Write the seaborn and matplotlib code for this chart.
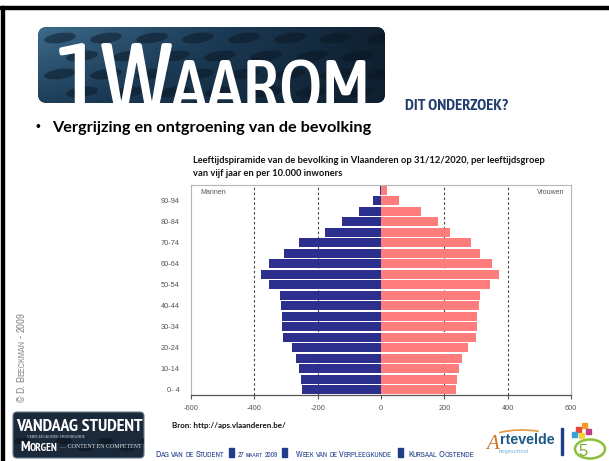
import os
import matplotlib
matplotlib.use("Agg")
import matplotlib.pyplot as plt
from matplotlib import font_manager as fm
import seaborn as sns
import pandas as pd
import numpy as np
from matplotlib.patches import FancyBboxPatch, Rectangle, Ellipse, Arc

# ---------------- data ----------------
ages = ["0- 4", "5-9", "10-14", "15-19", "20-24", "25-29", "30-34", "35-39",
        "40-44", "45-49", "50-54", "55-59", "60-64", "65-69", "70-74", "75-79",
        "80-84", "85-89", "90-94", "95+"]
men = [250, 253, 260, 270, 282, 309, 312, 312, 317, 319,
       354, 380, 354, 305, 260, 176, 122, 68, 24, 4]
women = [238, 241, 246, 255, 276, 299, 302, 302, 310, 312,
         344, 373, 352, 314, 283, 217, 181, 127, 58, 19]
labeled_ages = ["0- 4", "10-14", "20-24", "30-34", "40-44", "50-54",
                "60-64", "70-74", "80-84", "90-94"]
xticks = [-600, -400, -200, 0, 200, 400, 600]
xticklabels = ["-600", "-400", "-200", "0", "200", "400", "600"]
gridx = [-400, -200, 200, 400]

chart_title = ("Leeftijdspiramide van de bevolking in Vlaanderen op 31/12/2020, per leeftijdsgroep\n"
               "van vijf jaar en per 10.000 inwoners")

df = pd.concat([
    pd.DataFrame({"age": ages, "sex": "Mannen", "value": [-v for v in men]}),
    pd.DataFrame({"age": ages, "sex": "Vrouwen", "value": women}),
])
order = ages[::-1]

NAVY = "#2c2f8e"
SALMON = "#ff7c7c"

plt.rcParams["font.family"] = ["Liberation Sans", "DejaVu Sans"]

fig = plt.figure(figsize=(6.09, 4.61), dpi=100)
bg = fig.add_axes([0, 0, 1, 1])
bg.set_xlim(0, 609)
bg.set_ylim(461, 0)
bg.axis("off")
renderer = fig.canvas.get_renderer()


# ---------------- font helpers ----------------
def _w(f):
    w = f.weight
    if isinstance(w, (int, float)):
        return int(w)
    return {"normal": 400, "regular": 400, "book": 400, "medium": 500,
            "bold": 700}.get(str(w).lower(), 400)


def find_condensed(weights):
    found = []
    for f in fm.fontManager.ttflist:
        b = os.path.basename(f.fname).lower()
        if any(k in b for k in ["italic", "oblique", "mono"]):
            continue
        if "serif" in b and "sans" not in b:
            continue
        if f.style != "normal":
            continue
        st = str(f.stretch).lower()
        narrow = "narrow" in b
        cond = ("condensed" in b and not any(k in b for k in ["extra", "ultra", "semi"])) or st == "condensed"
        if not (narrow or cond):
            continue
        w = _w(f)
        if w not in weights:
            continue
        found.append((weights.index(w), 0 if narrow else 1, f.fname))
    if not found:
        return None
    found.sort()
    return found[0][2]


COND_REG = find_condensed([400])
COND_MED = find_condensed([500, 600, 400])
COND_BOLD = find_condensed([700, 600, 800])


def fp_cond(size, bold=False, medium=False):
    fname = COND_BOLD if bold else (COND_MED if medium else COND_REG)
    if fname:
        return fm.FontProperties(fname=fname, size=size)
    return fm.FontProperties(family="Liberation Sans", weight="bold" if bold else "normal", size=size)


def fp_fam(size, family, bold=False):
    return fm.FontProperties(family=family, weight="bold" if bold else "normal", size=size)


def width_of(t):
    return t.get_window_extent(renderer).width


def fit_text(x, y, s, target_w, fpmaker, size, color, **kw):
    t = bg.text(x, y, s, fontproperties=fpmaker(size), color=color, ha="left",
                va="baseline", **kw)
    w = width_of(t)
    t.set_fontproperties(fpmaker(size * target_w / w))
    return t


def small_caps(x, y, s, big, small, color, fpmaker, rotation=0, target=None, zorder=5, sp=0.2):
    runs = []
    for ch in s:
        kind = "sp" if ch == " " else ("lo" if ch.islower() else "up")
        if runs and runs[-1][0] == kind:
            runs[-1][1] += ch
        else:
            runs.append([kind, ch])

    def draw(scale):
        xx, yy, total, arts = x, y, 0.0, []
        for kind, txt in runs:
            if kind == "sp":
                adv = sp * big * scale * 100 / 72 * len(txt)
            else:
                size = (small if kind == "lo" else big) * scale
                t = bg.text(xx, yy, txt.upper(), fontproperties=fpmaker(size), color=color,
                            ha="left", va="baseline", rotation=rotation,
                            rotation_mode="anchor", zorder=zorder)
                bb = t.get_window_extent(renderer)
                adv = bb.width if rotation == 0 else bb.height
                arts.append(t)
            total += adv
            if rotation == 0:
                xx += adv
            else:
                yy -= adv
        return total, arts

    total, arts = draw(1.0)
    if target:
        for a in arts:
            a.remove()
        draw(target / total)


# ---------------- slide frame ----------------
bg.add_patch(Rectangle((0, 6.5), 609, 3, color="black", zorder=1))
bg.add_patch(Rectangle((0.5, 6.5), 3.5, 455, color="black", zorder=1))

# ---------------- title banner ----------------
box = FancyBboxPatch((38, 27), 347, 76, boxstyle="round,pad=0,rounding_size=9",
                     facecolor="#16304a", edgecolor="none", zorder=2)
bg.add_patch(box)
gx = np.linspace(0, 1, 200)
gy = np.linspace(0, 1, 60)
GX, GY = np.meshgrid(gx, gy)
grad = 0.55 * (1 - GX) * (1 - 0.5 * GY) + 0.08
img = bg.imshow(grad, extent=(38, 385, 103, 27), cmap=matplotlib.colors.LinearSegmentedColormap.from_list(
    "b", ["#0b1724", "#1b3a55", "#3f6f8f"]), vmin=0, vmax=0.65, zorder=2.1, aspect="auto")
img.set_clip_path(box)
for row, yy in enumerate([38, 56, 74, 92]):
    for k in range(8):
        xx = 60 + k * 46 + (row % 2) * 22
        e = Ellipse((xx, yy), 32, 10, angle=-8, facecolor="#0a1622", alpha=0.5,
                    edgecolor="none", zorder=2.2)
        bg.add_patch(e)
        e.set_clip_path(box)

# letters of the banner title, fitted into the span of the reference
title_letters = [("1", 1.0), ("W", 1.0), ("A", 0.76), ("A", 0.76), ("R", 0.76), ("O", 0.76), ("M", 0.76)]
BIG = 73
tmp = []
tot = 0.0
for ch, r in title_letters:
    t = bg.text(0, 0, ch, fontproperties=fp_cond(BIG * r, medium=True))
    tot += width_of(t)
    tmp.append(t)
for t in tmp:
    t.remove()
scale = min(1.0, 320 / tot)
xcur = 56 if scale < 1.0 else 56 + (320 - tot) / 2
for ch, r in title_letters:
    t = bg.text(xcur, 112, ch, fontproperties=fp_cond(BIG * r * scale, medium=True), color="white",
                ha="left", va="baseline", zorder=3)
    xcur += width_of(t) - 1.0

fit_text(405, 110, "DIT ONDERZOEK?", 103, lambda s: fp_cond(s, True), 10.5, "#203c6c", zorder=3)

# bullet
bg.text(35, 131, "\u2022", fontsize=10, color="black", ha="left", va="baseline")
fit_text(52, 131.5, "Vergrijzing en ontgroening van de bevolking", 317,
         lambda s: fp_fam(s, ["Lato", "DejaVu Sans"], True), 11, "black")

# chart title
t1, t2 = chart_title.split("\n")
fit_text(193, 163, t1, 353, lambda s: fp_fam(s, ["Lato", "DejaVu Sans"], True), 6.5, "#111111")
fit_text(193, 175.5, t2, 150, lambda s: fp_fam(s, ["Lato", "DejaVu Sans"], True), 6.5, "#111111")

# source
fit_text(172, 427.5, "Bron: http://aps.vlaanderen.be/", 116,
         lambda s: fp_fam(s, ["Lato", "DejaVu Sans"], True), 5.3, "#111111")

# copyright vertical
small_caps(24.5, 402, "\u00a9 D. Beeckman - 2009", 6.6, 5.4, "#8c8c8c",
           lambda s: fp_cond(s), rotation=90, target=89)

# ---------------- left logo ----------------
lbox = FancyBboxPatch((13, 412), 131, 46, boxstyle="round,pad=0,rounding_size=4",
                      facecolor="#1b2a3a", edgecolor="#6a7d90", lw=0.8, zorder=2)
bg.add_patch(lbox)
for k in range(7):
    e = Ellipse((22 + k * 21, 441 + (k % 2) * 7), 16, 7, facecolor="#0b131c",
                alpha=0.6, edgecolor="none", zorder=2.1)
    bg.add_patch(e)
    e.set_clip_path(lbox)
fit_text(16, 430.5, "VANDAAG STUDENT", 127, lambda s: fp_cond(s, True), 11, "white", zorder=3)
fit_text(27, 437.5, "VERPLEEGKUNDE VROEDKUNDE", 60, lambda s: fp_fam(s, "Liberation Serif"),
         3.6, "#dfe6ee", zorder=3)
small_caps(20, 451, "Morgen", 8.5, 6.5, "white", lambda s: fp_cond(s, True), target=37, zorder=3)
fit_text(60, 447.5, "\u2026 CONTENT EN COMPETENT", 82, lambda s: fp_fam(s, "Liberation Serif"),
         3.9, "#dfe6ee", zorder=3)

# ---------------- footer ----------------
FC = "#1f3d8a"
segments = [(155, "Dag van de Student", 70), (238, "27 maart 2009", 39),
            (296, "Week van de Verpleegkunde", 96), (408, "Kursaal Oostende", 67)]
for sx, s, tw in segments:
    small_caps(sx, 456.5, s, 6.3, 5.3, FC, lambda z: fp_cond(z), target=tw, sp=0.18)
for bx in [229, 282, 398]:
    bg.add_patch(Rectangle((bx, 448), 5, 8.5, color=FC, zorder=3))

# ---------------- right logos ----------------
bg.text(486, 449, "A", fontsize=15, color="#c8782a", family="Liberation Serif",
        style="italic", ha="left", va="baseline", zorder=3)
fit_text(500, 444, "rtevelde", 55, lambda s: fp_fam(s, "Liberation Sans", True), 7, "#1d5a86", zorder=3)
fit_text(499, 452.5, "hogeschool", 30, lambda s: fp_fam(s, "Liberation Sans"), 4.5, "#7ab0dc", zorder=3)
bg.add_patch(Arc((522, 441), 70, 22, theta1=200, theta2=330, color="#e39a3a", lw=1.2, zorder=3))
bg.add_patch(Rectangle((561, 428), 2, 27, color="#1f3d8a", zorder=3))
bg.add_patch(Ellipse((590, 449), 30, 19, facecolor="none", edgecolor="#8cbf3c", lw=1.8, zorder=3))
bg.text(583, 456, "5", fontsize=12, color="#7aae30", ha="center", va="baseline", zorder=3)
for (px, py, c) in [(576, 427, "#e8443a"), (582, 423, "#f59a2b"), (572, 432, "#3aa0d8"),
                    (586, 429, "#c23b8a"), (579, 433, "#f3d13a")]:
    bg.add_patch(Rectangle((px, py), 5, 5, color=c, zorder=3))

# ---------------- chart ----------------
ax = fig.add_axes([191 / 609, (461 - 395) / 461, 380 / 609, 210 / 461])
for gxv in gridx:
    ax.axvline(gxv, color="#444444", lw=0.8, linestyle=(0, (2.2, 2.2)), zorder=0)
sns.barplot(data=df, x="value", y="age", hue="sex", order=order,
            palette={"Mannen": NAVY, "Vrouwen": SALMON}, dodge=False, saturation=1,
            width=0.88, linewidth=0, legend=False, ax=ax, zorder=2)
ax.set_xlim(-600, 600)
ax.set_xticks(xticks)
ax.set_xticklabels(xticklabels)
ax.set_yticks([order.index(a) for a in labeled_ages])
ax.set_yticklabels(labeled_ages)
ax.set_xlabel("")
ax.set_ylabel("")
ax.set_facecolor("white")
for side in ["left", "top", "right"]:
    ax.spines[side].set_color("#b5b5b5")
    ax.spines[side].set_linewidth(0.8)
ax.spines["bottom"].set_color("#555555")
ax.spines["bottom"].set_linewidth(0.9)
ax.tick_params(axis="x", length=3, width=0.8, color="#555555", pad=4,
               labelsize=5.3, labelcolor="#555555")
ax.tick_params(axis="y", length=0, pad=8, labelsize=5.3, labelcolor="#555555")
ax.text(0.024, 0.962, "Mannen", transform=ax.transAxes, fontsize=5.0,
        color="#555555", ha="left", va="center")
ax.text(0.984, 0.962, "Vrouwen", transform=ax.transAxes, fontsize=5.0,
        color="#555555", ha="right", va="center")

fig.savefig("out.png", dpi=100)
